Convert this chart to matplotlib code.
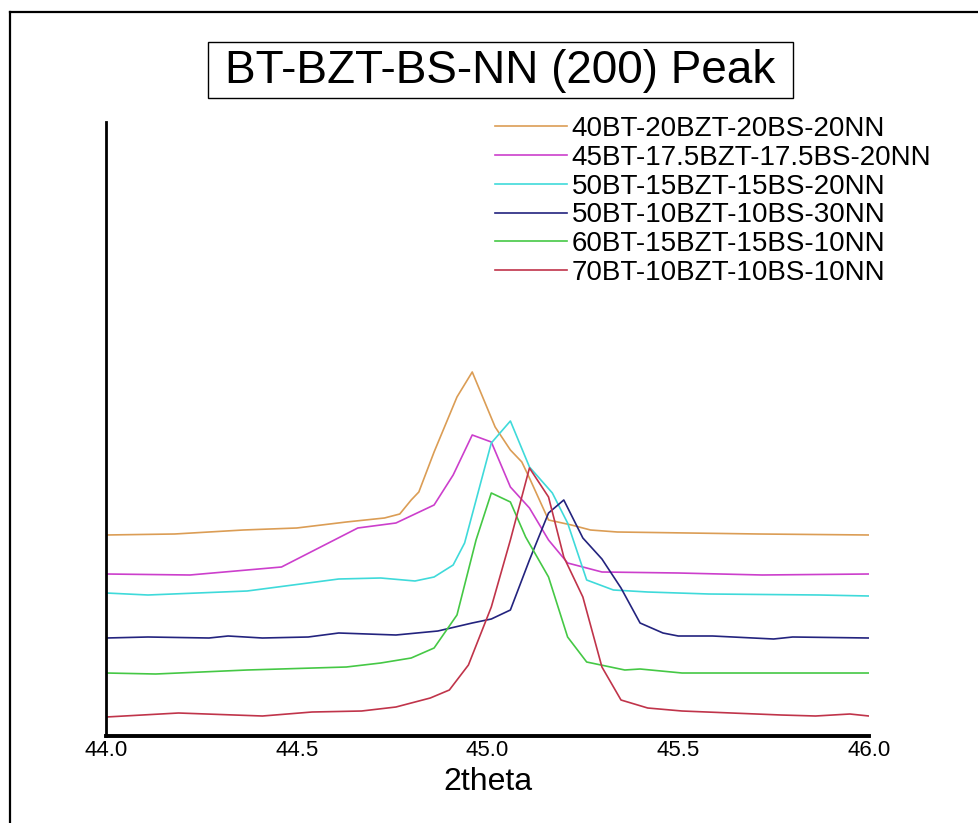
import matplotlib.pyplot as plt
from matplotlib.lines import Line2D
from matplotlib.patches import Rectangle

plt.rcParams['font.family'] = ['Liberation Sans', 'DejaVu Sans']

# -------- data (2theta, intensity a.u.) --------
labels = ["40BT-20BZT-20BS-20NN", "45BT-17.5BZT-17.5BS-20NN", "50BT-15BZT-15BS-20NN",
          "50BT-10BZT-10BS-30NN", "60BT-15BZT-15BS-10NN", "70BT-10BZT-10BS-10NN"]
colors = ["#DB9D55", "#CC3FCC", "#3FDADA", "#23237E", "#45C845", "#C0344A"]

x_40 = [44.00, 44.18, 44.36, 44.50, 44.63, 44.73, 44.77, 44.80, 44.82, 44.86, 44.92, 44.96,
        45.02, 45.06, 45.09, 45.11, 45.16, 45.22, 45.27, 45.34, 45.71, 46.00]
y_40 = [201, 202, 206, 208, 214, 218, 222, 236, 244, 284, 339, 364,
        309, 286, 274, 258, 216, 211, 206, 204, 202, 201]

x_45 = [44.00, 44.22, 44.46, 44.66, 44.76, 44.86, 44.91, 44.96, 45.01, 45.06, 45.11,
        45.16, 45.21, 45.30, 45.50, 45.72, 46.00]
y_45 = [162, 161, 169, 208, 213, 231, 261, 301, 294, 249, 228,
        196, 173, 164, 163, 161, 162]

x_50a = [44.00, 44.11, 44.37, 44.61, 44.72, 44.81, 44.86, 44.91, 44.94, 45.01, 45.06,
         45.11, 45.17, 45.21, 45.26, 45.33, 45.42, 45.58, 45.87, 46.00]
y_50a = [143, 141, 145, 157, 158, 155, 159, 171, 193, 293, 315,
         269, 243, 213, 156, 146, 144, 142, 141, 140]

x_50b = [44.00, 44.11, 44.27, 44.32, 44.41, 44.53, 44.61, 44.76, 44.87, 44.96, 45.01, 45.06,
         45.11, 45.16, 45.20, 45.25, 45.30, 45.35, 45.40, 45.46, 45.50, 45.59, 45.75, 45.80, 46.00]
y_50b = [98, 99, 98, 100, 98, 99, 103, 101, 105, 113, 117, 126,
         176, 223, 236, 198, 177, 148, 113, 103, 100, 100, 97, 99, 98]

x_60 = [44.00, 44.13, 44.37, 44.63, 44.72, 44.80, 44.86, 44.92, 44.97, 45.01, 45.06,
        45.10, 45.16, 45.21, 45.26, 45.36, 45.40, 45.51, 46.00]
y_60 = [63, 62, 66, 69, 73, 78, 88, 121, 196, 243, 234,
        199, 159, 99, 74, 66, 67, 63, 63]

x_70 = [44.00, 44.19, 44.41, 44.54, 44.67, 44.76, 44.85, 44.90, 44.95, 45.01, 45.06, 45.11,
        45.16, 45.20, 45.25, 45.30, 45.35, 45.42, 45.51, 45.77, 45.86, 45.95, 46.00]
y_70 = [19, 23, 20, 24, 25, 29, 38, 46, 71, 129, 196, 268,
        239, 179, 139, 69, 36, 28, 25, 21, 20, 22, 20]

xs = [x_40, x_45, x_50a, x_50b, x_60, x_70]
ys = [y_40, y_45, y_50a, y_50b, y_60, y_70]

xticks = [44.0, 44.5, 45.0, 45.5, 46.0]

# -------- figure --------
fig = plt.figure(figsize=(9.79, 8.23), dpi=100)
ax = fig.add_axes([0.1083, 0.1057, 0.7793, 0.7461])

for xv, yv, c, lab in zip(xs, ys, colors, labels):
    ax.plot(xv, yv, color=c, lw=1.2, label=lab)

ax.set_xlim(44.0, 46.0)
ax.set_ylim(0, 614)
ax.set_xticks(xticks)
ax.set_xticklabels([f"{t:.1f}" for t in xticks], fontsize=16)
ax.set_yticks([])
ax.tick_params(axis='x', length=0, pad=3)
ax.set_xlabel("2theta", fontsize=23, labelpad=4)
for s in ["top", "right"]:
    ax.spines[s].set_visible(False)
ax.spines["left"].set_linewidth(2)
ax.spines["bottom"].set_linewidth(2.8)

ax.legend(loc="upper left", bbox_to_anchor=(495 / 979, 1 - 116 / 823),
          bbox_transform=fig.transFigure, frameon=False, fontsize=20,
          handlelength=2.6, handletextpad=0.15, labelspacing=0.1,
          borderpad=0, borderaxespad=0)

# title in a box
fig.patches.append(Rectangle((208 / 979, 1 - 98 / 823), 585 / 979, 56 / 823,
                             transform=fig.transFigure, fill=False,
                             edgecolor="black", lw=1))
fig.text(500.5 / 979, 1 - 71 / 823, "BT-BZT-BS-NN (200) Peak",
         ha="center", va="center", fontsize=33)

# outer frame: left and top edges only
top = 1 - 12 / 823
left = 10 / 979
fig.lines.append(Line2D([left, 1.0], [top, top], transform=fig.transFigure,
                        color="black", lw=1.6))
fig.lines.append(Line2D([left, left], [0.0, top], transform=fig.transFigure,
                        color="black", lw=1.6))

fig.savefig("out.png", dpi=100)
